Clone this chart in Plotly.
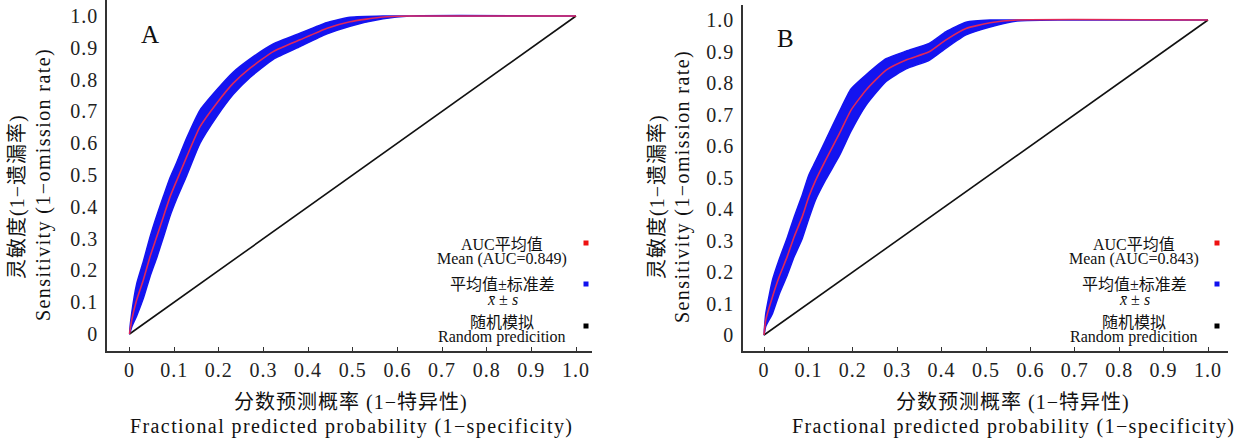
import plotly.graph_objects as go

W, H = 1254, 442
OFF = 0  # body margin removed by the post script below

# ---------------- data ----------------
# Panel A: mean ROC curve and its +/- standard deviation
a_fpr = [0, 0.005, 0.016, 0.031, 0.046, 0.061, 0.076, 0.091, 0.105, 0.128, 0.158,
         0.195, 0.232, 0.270, 0.322, 0.382, 0.441, 0.494, 0.568, 0.628, 1.0]
a_mean = [0, 0.044, 0.107, 0.170, 0.243, 0.306, 0.369, 0.432, 0.480, 0.557, 0.652,
          0.725, 0.788, 0.836, 0.888, 0.925, 0.961, 0.982, 0.997, 1.0, 1.0]
a_sd = [0, 0.022, 0.050, 0.058, 0.062, 0.066, 0.064, 0.060, 0.057, 0.059, 0.052,
        0.042, 0.035, 0.029, 0.024, 0.021, 0.018, 0.014, 0.006, 0.0, 0.0]

# Panel B
b_fpr = [0, 0.004, 0.019, 0.034, 0.052, 0.068, 0.086, 0.101, 0.116, 0.139, 0.170,
         0.196, 0.230, 0.275, 0.320, 0.372, 0.410, 0.455, 0.509, 0.570, 1.0]
b_mean = [0, 0.048, 0.121, 0.184, 0.248, 0.312, 0.375, 0.439, 0.490, 0.556, 0.640,
          0.714, 0.778, 0.841, 0.873, 0.899, 0.937, 0.973, 0.991, 1.0, 1.0]
b_sd = [0, 0.020, 0.053, 0.055, 0.059, 0.063, 0.069, 0.069, 0.061, 0.063, 0.070,
        0.067, 0.048, 0.036, 0.028, 0.027, 0.026, 0.020, 0.013, 0.003, 0.0]

auc_a = 0.849
auc_b = 0.843

random_x = [0, 1]
random_y = [0, 1]

tick_vals = [0, 0.1, 0.2, 0.3, 0.4, 0.5, 0.6, 0.7, 0.8, 0.9, 1.0]
tick_labels = ["0", "0.1", "0.2", "0.3", "0.4", "0.5", "0.6", "0.7", "0.8", "0.9", "1.0"]

# ---------------- styling ----------------
SERIF = "Liberation Serif, Noto Sans CJK SC, serif"
BLUE = "#1414f0"
RED = "#e0285a"
BLACK = "#111111"
AXIS = "#333333"


def ls(text, sp):
    return f'<span style="letter-spacing:{sp}px">{text}</span>'


def pxx(x):
    return (x - OFF) / W


def pyy(y):
    return 1 - (y - OFF) / H


fig = go.Figure()

panels = [
    dict(fpr=a_fpr, mean=a_mean, sd=a_sd, xa="x", ya="y"),
    dict(fpr=b_fpr, mean=b_mean, sd=b_sd, xa="x2", ya="y2"),
]

for p in panels:
    upper = [min(1.0, m + s) for m, s in zip(p["mean"], p["sd"])]
    lower = [max(0.0, m - s) for m, s in zip(p["mean"], p["sd"])]
    fig.add_trace(go.Scatter(
        x=p["fpr"] + p["fpr"][::-1], y=upper + lower[::-1],
        fill="toself", fillcolor=BLUE, mode="lines",
        line=dict(color=BLUE, width=1.5, shape="spline", smoothing=0.5),
        xaxis=p["xa"], yaxis=p["ya"], hoverinfo="skip", showlegend=False))
    fig.add_trace(go.Scatter(
        x=random_x, y=random_y, mode="lines",
        line=dict(color=BLACK, width=1.6),
        xaxis=p["xa"], yaxis=p["ya"], showlegend=False))
    fig.add_trace(go.Scatter(
        x=p["fpr"], y=p["mean"], mode="lines",
        line=dict(color=RED, width=1.6, shape="spline", smoothing=0.5),
        xaxis=p["xa"], yaxis=p["ya"], showlegend=False))

tick_text = [ls(t, 1) for t in tick_labels]
tickfont = dict(family=SERIF, size=20, color="#222")

xcommon = dict(showline=True, linecolor=AXIS, linewidth=1.5, ticks="inside", ticklen=4,
               tickwidth=1, tickcolor=AXIS, tickvals=tick_vals, ticktext=tick_text,
               showgrid=False, zeroline=False, tickfont=tickfont, ticklabelstandoff=0)
ycommon = dict(showline=True, linecolor=AXIS, linewidth=1.5, ticks="",
               tickvals=tick_vals, ticktext=tick_text,
               showgrid=False, zeroline=False, tickfont=tickfont, ticklabelstandoff=3,
               ticklabeloverflow="allow")

# Panel A pixel geometry (reference pixels)
ax0, ax1, axl, axr = 129.5, 576.0, 107.0, 592.0
ay0, ay1, ayb, ayt = 334.0, 16.0, 351.0, 0.0
# Panel B pixel geometry
bx0, bx1, bxl, bxr = 764.0, 1208.0, 743.0, 1228.0
by0, by1, byb, byt = 335.0, 20.0, 351.0, 5.0

fig.update_layout(
    width=W, height=H,
    margin=dict(l=0, r=0, t=0, b=0),
    paper_bgcolor="white", plot_bgcolor="white",
    showlegend=False,
    xaxis=dict(domain=[pxx(axl), pxx(axr)],
               range=[(axl - ax0) / (ax1 - ax0), (axr - ax0) / (ax1 - ax0)],
               anchor="y", **xcommon),
    yaxis=dict(domain=[pyy(ayb), pyy(ayt)],
               range=[(ay0 - ayb) / (ay0 - ay1), (ay0 - ayt) / (ay0 - ay1)],
               anchor="x", **ycommon),
    xaxis2=dict(domain=[pxx(bxl), pxx(bxr)],
                range=[(bxl - bx0) / (bx1 - bx0), (bxr - bx0) / (bx1 - bx0)],
                anchor="y2", **xcommon),
    yaxis2=dict(domain=[pyy(byb), pyy(byt)],
                range=[(by0 - byb) / (by0 - by1), (by0 - byt) / (by0 - by1)],
                anchor="x2", **ycommon),
)

annotations = []


def add_text(text, x, y, size, angle=0, sp=0):
    annotations.append(dict(
        text=ls(text, sp) if sp else text, x=pxx(x), y=pyy(y), xref="paper", yref="paper",
        xanchor="center", yanchor="middle", showarrow=False, textangle=angle,
        font=dict(family=SERIF, size=size, color="#111")))


shapes = []


def add_square(x, y, color, s=5):
    shapes.append(dict(type="rect", xref="paper", yref="paper",
                       x0=pxx(x - s / 2), x1=pxx(x + s / 2),
                       y0=pyy(y + s / 2), y1=pyy(y - s / 2),
                       fillcolor=color, line=dict(width=0)))


legend_layout = [
    dict(letter="A", lx=150, ly=35, cx=502, mx=586, auc=auc_a,
         ycn=197, xcn=17, yen=185, xen=43, xtx=351),
    dict(letter="B", lx=785, ly=38, cx=1134, mx=1217, auc=auc_b,
         ycn=197, xcn=657, yen=187, xen=682, xtx=1013),
]

for L in legend_layout:
    add_text(L["letter"], L["lx"], L["ly"], 25)
    # y-axis titles
    add_text("灵敏度(1−遗漏率)", L["xcn"], L["ycn"], 20, angle=-90, sp=1)
    add_text("Sensitivity (1−omission rate)", L["xen"], L["yen"], 20, angle=-90, sp=1.4)
    # x-axis titles
    add_text("分数预测概率 (1−特异性)", L["xtx"], 402, 20, sp=1)
    add_text("Fractional predicted probability (1−specificity)", L["xtx"], 426, 20, sp=1.4)
    # legend entries
    c = L["cx"]
    add_text("AUC平均值", c, 244, 16)
    add_text(f"Mean (AUC={L['auc']:.3f})", c, 259, 16)
    add_text("平均值±标准差", c, 284, 16)
    add_text("<i>x\u0304</i> ± <i>s</i>", c, 299, 16)
    add_text("随机模拟", c, 322, 16)
    add_text("Random predicition", c, 337, 16)
    add_square(L["mx"], 243, "#ee1111")
    add_square(L["mx"], 284, "#1111ee")
    add_square(L["mx"], 326, "#000000")

fig.update_layout(annotations=annotations, shapes=shapes)

fig.write_html("out.html", config={"displayModeBar": False},
               post_script="document.body.style.margin='0px';")
